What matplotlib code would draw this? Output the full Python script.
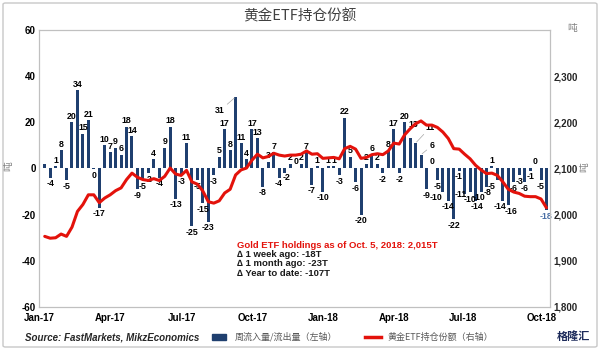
import matplotlib
matplotlib.use('Agg')
import matplotlib.pyplot as plt
from matplotlib.patches import FancyBboxPatch, Rectangle
from matplotlib.lines import Line2D
import numpy as np

# ---------------- data ----------------
flows = [2, -4, 1, 8, -5, 20, 34, 15, 21, -0.4, -17, 10, 7, 9, 6, 18, 14, -9, -5, -2, 4, -4, 9, 18, -13,
         -3, 11, -25, -5, -15, -23, -3, 5, 17, 8, 31, 11, 4, 17, 13, -8, 3, 7, -4, -2, 2, 0.4, 2, 7,
         -7, 1, -10, 1, 1, -3, 22, 5, -6, -20, 2, 6, 2, -2, 8, 17, -2, 20, 13,
         11, 6, -9, 0.4,
         -5, -10, -14, -22, -1, -11, -10, -14, -10, -8, 1, -5, -14, -16, -6, -3, -6, -1, 0.4, -5, -18]

holdings = [1953, 1949, 1950, 1958, 1953, 1973, 2007, 2022, 2043, 2043, 2026, 2036, 2043, 2052, 2058,
            2076, 2090, 2081, 2076, 2074, 2078, 2074, 2083, 2101, 2088,
            2085, 2096, 2071, 2066, 2051, 2028, 2025, 2030, 2047, 2055, 2086, 2097, 2101, 2118, 2131,
            2123, 2126, 2133, 2129, 2127, 2129, 2129, 2131, 2138,
            2131, 2132, 2122, 2123, 2124, 2121, 2143, 2148, 2142, 2122, 2124, 2130, 2132, 2130, 2138,
            2155, 2153, 2173, 2186,
            2197, 2203, 2194, 2194,
            2189, 2179, 2165, 2143, 2142, 2131, 2121, 2107, 2097, 2089, 2090, 2085, 2071, 2055, 2049,
            2046, 2040, 2039, 2039, 2034, 2015]

x_labels = ['Jan-17', 'Apr-17', 'Jul-17', 'Oct-17', 'Jan-18', 'Apr-18', 'Jul-18', 'Oct-18']
left_ticks = [-60, -40, -20, 0, 20, 40, 60]
right_ticks = [1800, 1900, 2000, 2100, 2200, 2300]

title = '黄金ETF持仓份额'
legend_bar = '周流入量/流出量（左轴）'
legend_line = '黄金ETF持仓份额（右轴）'
source = 'Source: FastMarkets, MikzEconomics'
note_head = 'Gold ETF holdings as of Oct. 5, 2018: 2,015T'
note_lines = ['∆ 1 week ago: -18T', '∆ 1 month ago: -23T', '∆ Year to date: -107T']

# ---------------- layout ----------------
W, H = 600, 351
CJK = ['Noto Sans CJK SC', 'DejaVu Sans']
LAT = ['Liberation Sans', 'DejaVu Sans']
plt.rcParams['font.family'] = LAT

fig = plt.figure(figsize=(W / 100, H / 100), dpi=100)
fig.patch.set_facecolor('white')


def fx(px):
    return px / W


def fy(py):
    return 1 - py / H


# outer frame
fig.patches.append(FancyBboxPatch((fx(3), fy(347)), fx(594), 344 / H,
                                  boxstyle='round,pad=0,rounding_size=0.004',
                                  transform=fig.transFigure, fill=False,
                                  edgecolor='#c8c8c8', lw=1.0))

ax_l, ax_r, ax_t, ax_b = 39, 550, 30, 307
ax = fig.add_axes([fx(ax_l), fy(ax_b), fx(ax_r - ax_l), (ax_b - ax_t) / H])
ax2 = ax.twinx()

n = len(flows)
xs = np.arange(n)
bar_color = '#1f3f6f'
ax.bar(xs, flows, width=0.55, color=bar_color, zorder=2)
ax.set_xlim(-1.05, 92.65)
ax.set_ylim(-60, 60)
ax.set_yticks(left_ticks)
ax.set_yticklabels([str(t) for t in left_ticks], fontsize=7, fontweight='bold')

tick_pos = [-1, 12, 25.2, 38.2, 51, 64, 76.7, 91.2]
ax.set_xticks(tick_pos)
ax.set_xticklabels(x_labels, fontsize=7, fontweight='bold')
ax.tick_params(axis='y', length=0, pad=2.5)
ax.tick_params(axis='x', length=0, pad=4.5)

for a in (ax, ax2):
    for sp in a.spines.values():
        sp.set_color('#c0c0c0')
        sp.set_linewidth(0.8)

# bar labels (offsets in pixels for a few hand-placed labels, some with leader lines)
label_offsets = {35: (-16, -20), 43: (-1, 0), 44: (2, 2), 67: (3, 8), 68: (15, 10), 69: (11, 3),
                 73: (-7, 0), 76: (-1, 0), 77: (-4, 5), 78: (0, -2), 79: (1, 0), 80: (-2, 0),
                 81: (1, 0), 83: (-6, 0), 84: (-3, 0), 85: (3, 0)}
leaders = {35, 68, 69}
for i, v in enumerate(flows):
    if i == 0:
        continue
    txt = '%d' % round(v)
    dx, dy = label_offsets.get(i, (0, 0))
    if v >= 0:
        va, base = 'bottom', 1.5
    else:
        va, base = 'top', -1.5
    col = '#4a6fa5' if i == n - 1 else 'black'
    kw = {}
    if i in leaders:
        kw['arrowprops'] = dict(arrowstyle='-', color='#a6a6a6', lw=0.5, shrinkA=0, shrinkB=1)
    ax.annotate(txt, (i, v), xytext=(dx * 0.72, (base + dy) * 0.72), textcoords='offset points',
                ha='center', va=va, fontsize=6.3, fontweight='bold', color=col, zorder=4,
                annotation_clip=False, **kw)

# line on the right axis
ax2.plot(xs, holdings, color='#e3120b', lw=2.2, solid_joinstyle='round',
         solid_capstyle='round', zorder=5)
ax2.set_ylim(1800, 2400)
ax2.set_yticks(right_ticks)
ax2.set_yticklabels(['{:,}'.format(t) for t in right_ticks], fontsize=7, fontweight='bold',
                    color='#262626')
ax2.tick_params(axis='y', length=0, pad=2.5)

# units
fig.text(fx(8), fy(166), '吨', rotation=90, fontsize=7, color='#808080', family=CJK,
         ha='center', va='center')
fig.text(fx(584), fy(167), '吨', rotation=90, fontsize=7, color='#808080', family=CJK,
         ha='center', va='center')
fig.text(fx(572), fy(28), '吨', fontsize=7, color='#808080', family=CJK, ha='center', va='center')

# title
fig.text(0.5, fy(16), title, fontsize=10.5, color='#404040', family=CJK, ha='center', va='center')

# annotation block
fig.text(fx(237), fy(245), note_head, fontsize=6.8, fontweight='bold', color='#e3120b',
         ha='left', va='center')
for k, s in enumerate(note_lines):
    fig.text(fx(237), fy(254.5 + 9.5 * k), s, fontsize=6.8, fontweight='bold', color='#1a1a1a',
             ha='left', va='center')

# bottom: source + legend
fig.text(fx(25), fy(337), source, fontsize=7, fontweight='bold', style='italic', color='#262626',
         ha='left', va='center')
fig.patches.append(Rectangle((fx(212), fy(340)), fx(14), 6 / H, transform=fig.transFigure,
                             color=bar_color))
fig.text(fx(235), fy(337), legend_bar, fontsize=6.5, color='#595959', family=CJK,
         ha='left', va='center')
fig.lines.append(Line2D([fx(365), fx(381)], [fy(337), fy(337)], transform=fig.transFigure,
                        color='#e3120b', lw=2.5))
fig.text(fx(388), fy(337), legend_line, fontsize=6.5, color='#595959', family=CJK,
         ha='left', va='center')
fig.text(fx(573), fy(336), '格隆汇', fontsize=8, fontweight='bold', color='#1c2a5a', family=CJK,
         ha='center', va='center')

fig.savefig('out.png', dpi=100)
